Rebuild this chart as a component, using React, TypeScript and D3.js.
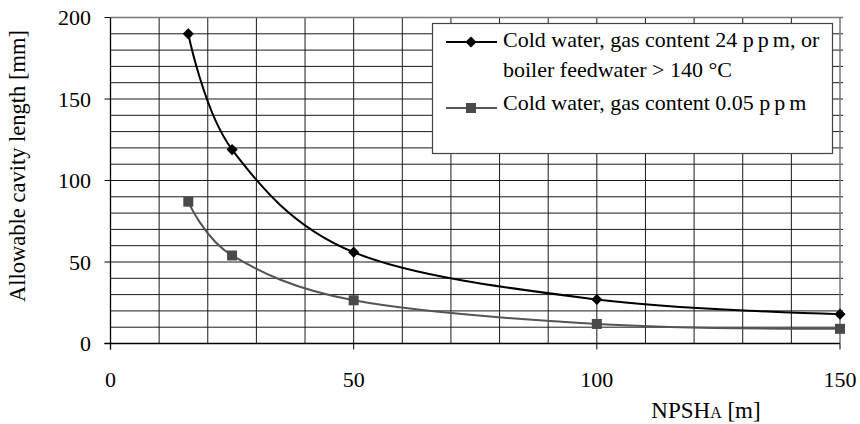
import React from "react";
import * as d3 from "d3";

const npsh = [16, 25, 50, 100, 150];
const gas24 = [190, 119, 56, 27, 18];
const gas005 = [87, 54, 26.5, 12, 9];
const xTicks = [0, 50, 100, 150];
const yTicks = [0, 50, 100, 150, 200];
const legend1a = "Cold water, gas content 24 ";
const legend1b = "m, or";
const legend1line2 = "boiler feedwater > 140 °C";
const legend2a = "Cold water, gas content 0.05 ";
const legend2b = "m";
const unitPP = "pp";

const W = 860, H = 424;
const L = 110.5, R = 840, T = 17.5, B = 343.5;

export default function App() {
  const x = d3.scaleLinear().domain([0, 150]).range([L, R]);
  const y = d3.scaleLinear().domain([0, 200]).range([B, T]);
  const line = d3.line<number>().x((_, i) => x(npsh[i])).y((d) => y(d)).curve(d3.curveCardinal.tension(0));
  const font = "Liberation Serif, DejaVu Serif, serif";
  const gridX = d3.range(10, 150, 10);
  const gridY = d3.range(10, 200, 10);
  const diamond = d3.symbol(d3.symbolDiamond2, 80)();
  return (
    <svg width={W} height={H} style={{ position: "absolute", left: 0, top: 0, fontFamily: font }}>
      <rect width={W} height={H} fill="#fff" />
      {gridY.map((v) => (
        <line key={"gy" + v} x1={L} x2={R + 3} y1={y(v)} y2={y(v)} stroke="#1a1a1a" strokeWidth={1} />
      ))}
      {gridX.map((v) => (
        <line key={"gx" + v} x1={x(v)} x2={x(v)} y1={T} y2={B} stroke="#1a1a1a" strokeWidth={1} />
      ))}
      <line x1={L} x2={R + 3} y1={T} y2={T} stroke="#777" strokeWidth={1.5} />
      <line x1={R} x2={R} y1={T} y2={B} stroke="#777" strokeWidth={1.5} />
      <line x1={L} x2={L} y1={T} y2={B + 6} stroke="#000" strokeWidth={1.3} />
      <line x1={L - 6} x2={R} y1={B} y2={B} stroke="#000" strokeWidth={1.3} />
      {yTicks.map((v) => (
        <g key={"yt" + v}>
          <line x1={L - 6} x2={L} y1={y(v)} y2={y(v)} stroke="#000" />
          <text x={91} y={y(v)} dy="0.35em" textAnchor="end" fontSize={22}>{v}</text>
        </g>
      ))}
      {xTicks.map((v) => (
        <g key={"xt" + v}>
          <line x1={x(v)} x2={x(v)} y1={B} y2={B + 6} stroke="#000" />
          <text x={x(v)} y={387} textAnchor="middle" fontSize={22}>{v}</text>
        </g>
      ))}
      <text x={706} y={418} textAnchor="middle" fontSize={23}>
        NPSH<tspan fontSize={16}>A</tspan> [m]
      </text>
      <text transform="translate(25,166) rotate(-90)" textAnchor="middle" fontSize={22.5}>
        Allowable cavity length [mm]
      </text>
      <path d={line(gas005) || ""} fill="none" stroke="#555" strokeWidth={2} />
      <path d={line(gas24) || ""} fill="none" stroke="#000" strokeWidth={2} />
      {gas005.map((v, i) => (
        <rect key={"s" + i} x={x(npsh[i]) - 5} y={y(v) - 5} width={10} height={10} fill="#4a4a4a" />
      ))}
      {gas24.map((v, i) => (
        <path key={"d" + i} d={diamond || ""} transform={`translate(${x(npsh[i])},${y(v)})`} fill="#000" />
      ))}
      <rect x={432.5} y={23.5} width={400} height={130} fill="#fff" stroke="#444" strokeWidth={1.2} />
      <line x1={446} x2={497} y1={42} y2={42} stroke="#000" strokeWidth={2} />
      <path d={diamond || ""} transform="translate(471,42)" fill="#000" />
      <text x={503} y={46.5} fontSize={22}>
        {legend1a}<tspan letterSpacing={4}>{unitPP}</tspan>{legend1b}
      </text>
      <text x={503} y={76.5} fontSize={22}>{legend1line2}</text>
      <line x1={446} x2={497} y1={108} y2={108} stroke="#555" strokeWidth={2} />
      <rect x={466} y={103} width={10} height={10} fill="#4a4a4a" />
      <text x={503} y={110} fontSize={22}>
        {legend2a}<tspan letterSpacing={4}>{unitPP}</tspan>{legend2b}
      </text>
    </svg>
  );
}
